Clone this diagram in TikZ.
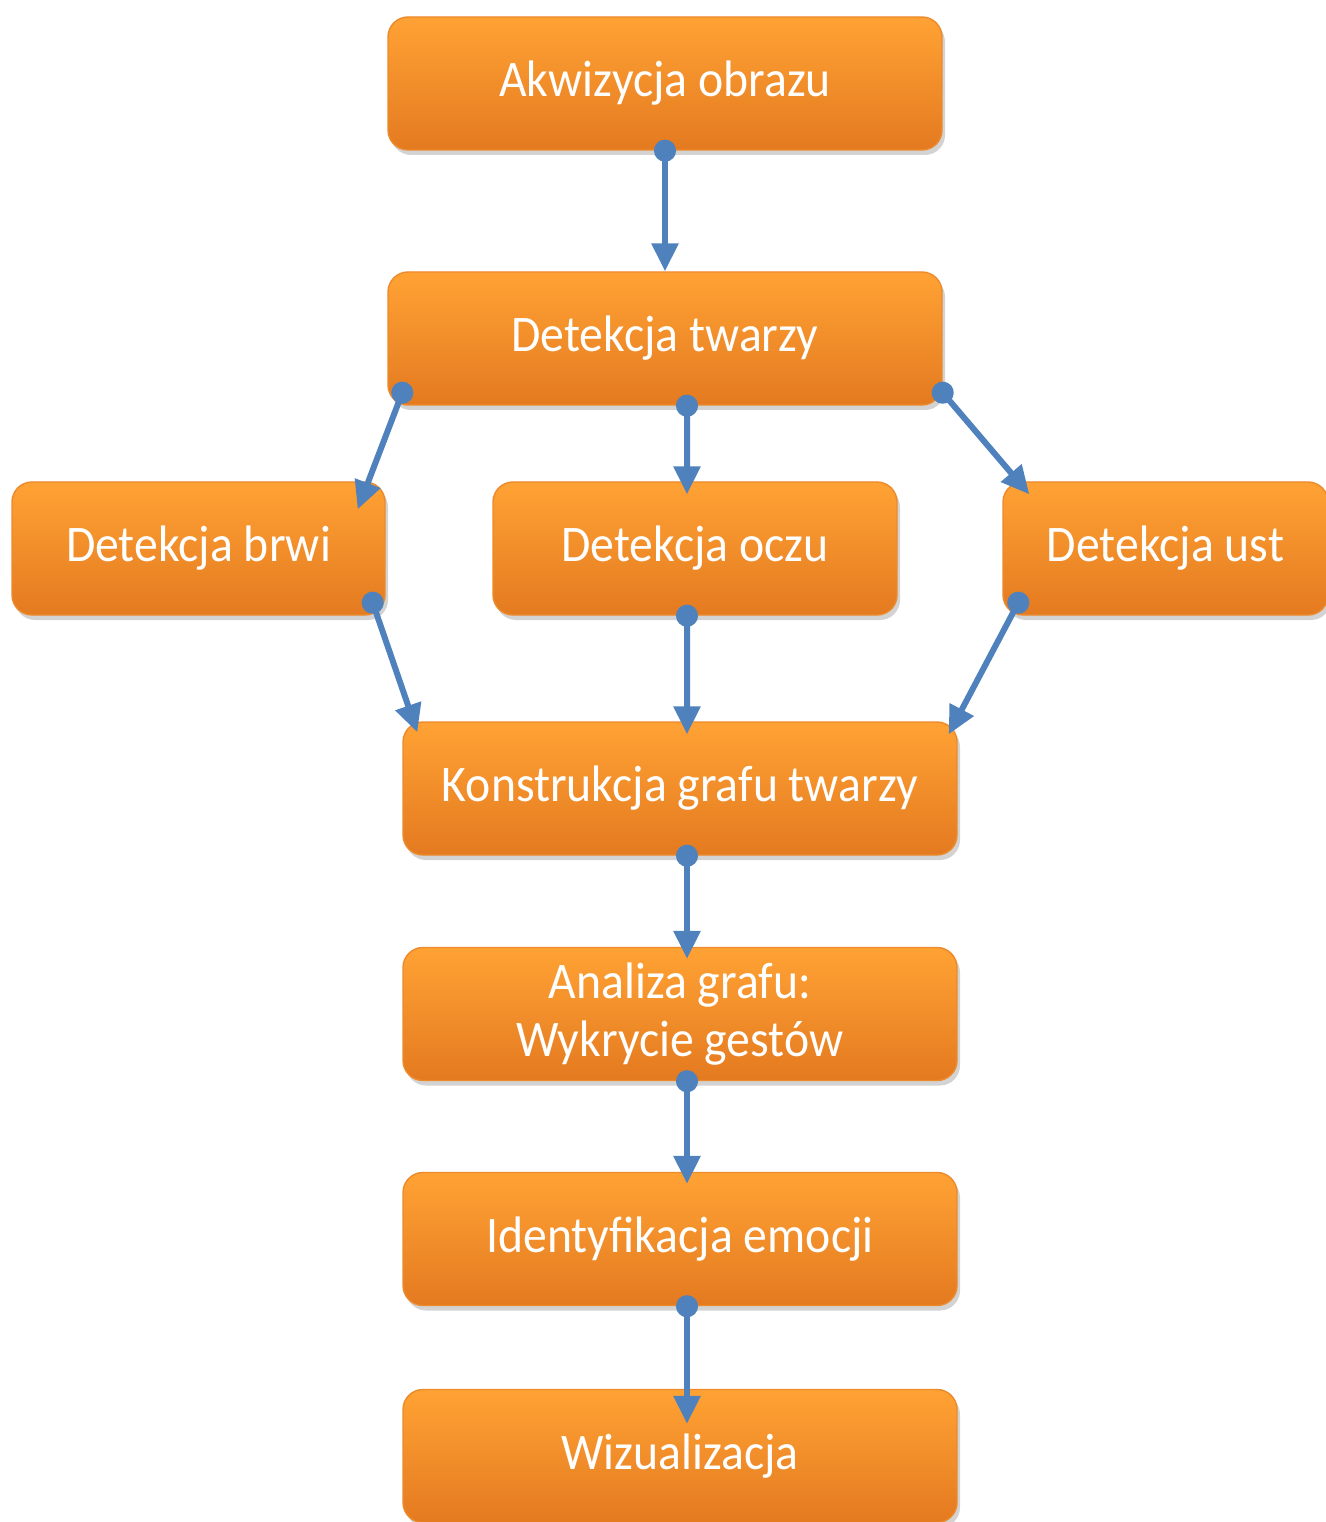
\documentclass[tikz,border=0pt]{standalone}
\usepackage{fontspec}
\setmainfont{Carlito}[FakeStretch=0.93]
\usetikzlibrary{arrows.meta,shadows}

\definecolor{boxtop}{RGB}{255,162,52}
\definecolor{boxbot}{RGB}{228,122,32}
\definecolor{boxedge}{RGB}{236,138,44}
\definecolor{flowblue}{RGB}{79,129,189}

\begin{document}
\begin{tikzpicture}[
    box/.style={rounded corners=0.2cm, top color=boxtop, bottom color=boxbot, draw=boxedge,
      minimum height=1.33cm, text=white, align=center,
      font=\fontsize{14.6}{16.5}\selectfont,
      drop shadow={shadow xshift=0.03cm, shadow yshift=-0.05cm, opacity=0.35}},
    flow/.style={line width=0.06cm, flowblue, {Circle[length=0.22cm,sep=-0.11cm]}-{Triangle[width=0.26cm,length=0.28cm]}}
  ]
  \useasboundingbox (0,0) rectangle (13.26,-15.22);

  % Draw the boxes
  \node[box, minimum width=5.54cm] (akw) at (6.65,-0.835) {Akwizycja obrazu};
  \node[box, minimum width=5.54cm] (twarz) at (6.65,-3.385) {Detekcja twarzy};
  \node[box, minimum width=3.73cm] (brwi) at (1.985,-5.485) {Detekcja brwi};
  \node[box, minimum width=4.04cm] (oczu) at (6.95,-5.485) {Detekcja oczu};
  \node[box, minimum width=3.25cm] (ust) at (11.655,-5.485) {Detekcja ust};
  \node[box, minimum width=5.54cm] (graf) at (6.80,-7.885) {Konstrukcja grafu twarzy};
  \node[box, minimum width=5.54cm] (anal) at (6.80,-10.14) {Analiza grafu:\\Wykrycie gestów};
  \node[box, minimum width=5.54cm] (iden) at (6.80,-12.39) {Identyfikacja emocji};
  \node[box, minimum width=5.54cm] (wiz) at (6.80,-14.56) {Wizualizacja};

  % Draw the connectors
  \draw[flow] (akw.south) -- (twarz.north);
  \draw[flow] ([xshift=0.15cm,yshift=0.13cm]twarz.south west) -- ([xshift=-0.28cm,yshift=-0.28cm]brwi.north east);
  \draw[flow] ([xshift=0.22cm]twarz.south) -- ([xshift=-0.08cm,yshift=-0.13cm]oczu.north);
  \draw[flow] ([yshift=0.13cm]twarz.south east) -- ([xshift=0.27cm,yshift=-0.13cm]ust.north west);
  \draw[flow] ([xshift=-0.13cm,yshift=0.13cm]brwi.south east) -- ([xshift=0.15cm,yshift=-0.11cm]graf.north west);
  \draw[flow] ([xshift=-0.08cm]oczu.south) -- ([xshift=0.07cm,yshift=-0.13cm]graf.north);
  \draw[flow] ([xshift=0.16cm,yshift=0.13cm]ust.south west) -- ([xshift=-0.09cm,yshift=-0.13cm]graf.north east);
  \draw[flow] ([xshift=0.07cm]graf.south) -- ([xshift=0.07cm,yshift=-0.12cm]anal.north);
  \draw[flow] ([xshift=0.07cm]anal.south) -- ([xshift=0.07cm,yshift=-0.12cm]iden.north);
  \draw[flow] ([xshift=0.07cm]iden.south) -- ([xshift=0.07cm,yshift=-0.35cm]wiz.north);
\end{tikzpicture}
\end{document}
